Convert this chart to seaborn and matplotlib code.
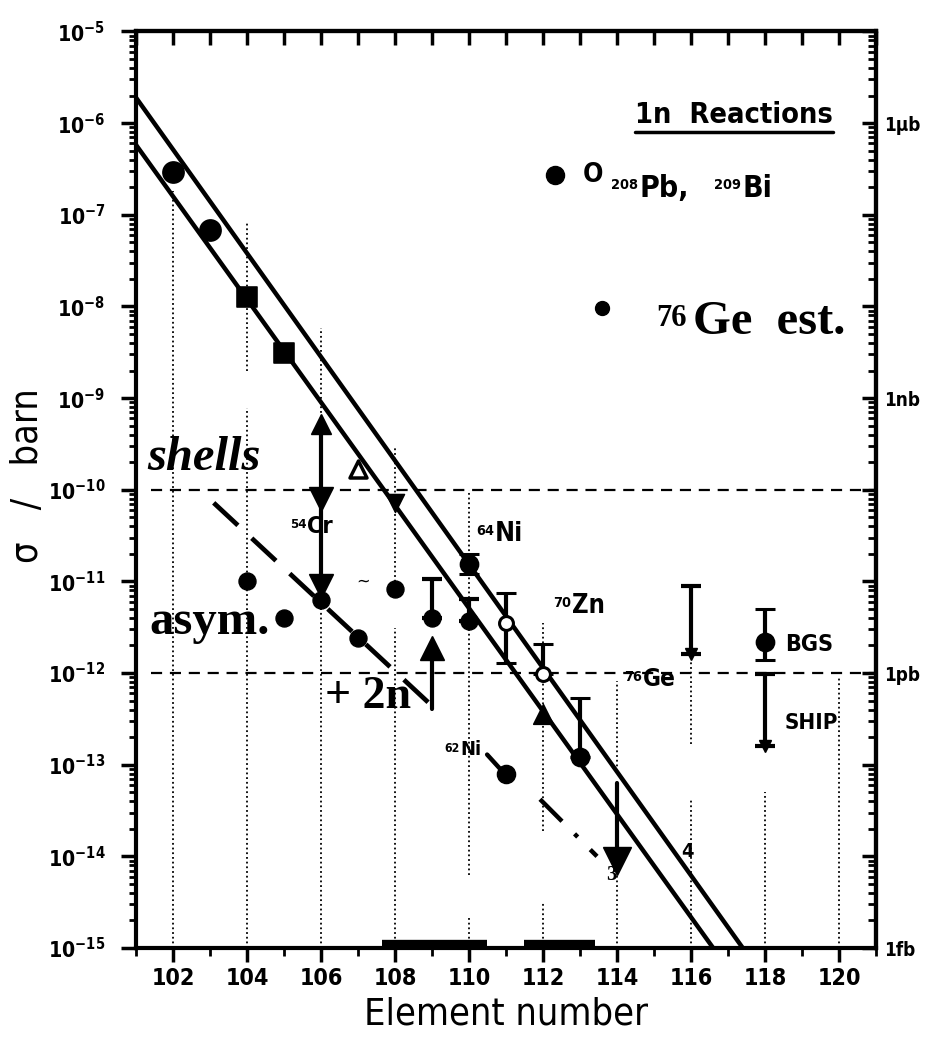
import numpy as np
import pandas as pd
import seaborn as sns
import matplotlib
matplotlib.use("Agg")
import matplotlib.pyplot as plt
from matplotlib import font_manager as fm
from matplotlib.font_manager import FontProperties
from matplotlib.ticker import FixedLocator, FixedFormatter, LogLocator, NullFormatter

# --- data ---------------------------------------------------------------
# 1n systematics, two parallel fit lines
upper_z = [101, 117.4]
upper_sig = [1.9e-6, 1e-15]
lower_z = [101, 116.6]
lower_sig = [5.8e-7, 1e-15]

# Pb/Bi targets, light elements
pb_z = [102, 103]
pb_sig = [2.9e-7, 6.8e-8]
sq_z = [104, 105]
sq_sig = [1.26e-8, 3.1e-9]

# single marks
tri_open_z, tri_open_sig = [107], [1.7e-10]
star_z, star_sig = [108], [7.2e-11]

# measured points with error bars
meas_z = [110, 111, 112, 113, 118]
meas_sig = [1.55e-11, 3.5e-12, 9.8e-13, 1.2e-13, 2.2e-12]
meas_lo = [1.2e-11, 1.3e-12, 9.8e-13, 1.2e-13, 1.4e-12]
meas_hi = [2.0e-11, 7.4e-12, 2.1e-12, 5.4e-13, 5.0e-12]
meas_filled = [True, False, False, True, True]

# asymmetric (shells) reactions
asym_z = [104, 105, 106, 107, 108, 109, 110]
asym_sig = [1.0e-11, 4.0e-12, 6.2e-12, 2.4e-12, 8.3e-12, 4.0e-12, 3.7e-12]
asym_hi = [None, None, None, None, None, 1.07e-11, 6.5e-12]
asym_trend_z = [103.1, 109.05]
asym_trend_sig = [7.2e-11, 4.2e-13]

# arrows
cr54_z, cr54_top, cr54_mid, cr54_low = 106, 5.2e-10, 8.0e-11, 8.9e-12
ni62_z, ni62_from, ni62_to = 109, 4.1e-13, 1.86e-12
z114, z114_from, z114_to = 114, 6.3e-14, 8.9e-15
lim116_z, lim116_top, lim116_end = 116, 8.9e-12, 1.6e-12
ship_z, ship_top, ship_end = 118, 9.8e-13, 1.6e-13
tri112_z, tri112_sig = [112], [3.6e-13]

# +2n branch
ni62_stick_z = [110.49, 110.97]
ni62_stick_sig = [1.29e-13, 7.9e-14]
ni62_pt_z, ni62_pt_sig = [111], [7.9e-14]
dashdot_z = [111.92, 113.46]
dashdot_sig = [4.2e-14, 1.0e-14]

# bars along the bottom
bar_z = [(107.65, 110.49), (111.5, 113.4)]
bar_sig = 1.12e-15

# dotted guide segments (z, low, high)
guide_z = [102, 104, 104, 106, 108, 108, 110, 110, 112, 112, 114, 114,
           116, 116, 118, 120]
guide_lo = [1e-15, 2.0e-9, 1e-15, 1e-15, 7.9e-12, 1e-15, 6.3e-15, 1e-15,
            1.9e-14, 1e-15, 8.5e-14, 1e-15, 1.7e-13, 1e-15, 1e-15, 1e-15]
guide_hi = [1.8e-7, 8.1e-8, 7.8e-10, 5.8e-9, 2.9e-10, 3.1e-12, 1e-10, 2.2e-15,
            3.5e-12, 3.2e-15, 8.1e-13, 7.9e-15, 1.35e-12, 4.1e-14, 5.0e-14, 8.9e-13]

ref_levels = [1e-10, 1e-12]
decades = [10.0 ** -k for k in range(5, 16)]
right_labels = {1e-6: "1\u03bcb", 1e-9: "1nb", 1e-12: "1pb", 1e-15: "1fb"}

# --- style ----------------------------------------------------------------
K = "black"
sns.set_style("ticks", rc={"axes.edgecolor": K, "text.color": K, "axes.labelcolor": K,
                           "xtick.color": K, "ytick.color": K})

# the scan uses a tall condensed face: take a condensed sans if one is installed
STRETCH_NUM = {"ultra-condensed": 100, "extra-condensed": 200, "condensed": 300,
               "semi-condensed": 400, "normal": 500}
NARROW, STRETCH = "Liberation Sans", 500
best = 999
for f in fm.fontManager.ttflist:
    s = f.stretch if isinstance(f.stretch, int) else STRETCH_NUM.get(f.stretch, 500)
    if "Narrow" in f.name or "Condensed" in f.name:
        s = min(s, 300)
    if s < 500 and abs(s - 300) < best and "Mono" not in f.name:
        best, NARROW, STRETCH = abs(s - 300), f.name, s
SERIF = "Liberation Serif"
plt.rcParams["font.family"] = [NARROW, "DejaVu Sans"]
plt.rcParams["font.stretch"] = STRETCH
plt.rcParams["mathtext.fontset"] = "custom"
plt.rcParams["mathtext.rm"] = NARROW
plt.rcParams["mathtext.bf"] = NARROW + ":bold"
plt.rcParams["axes.linewidth"] = 3

fig = plt.figure(figsize=(9.34, 10.57), dpi=100)
ax = fig.add_axes([0.1456, 0.1031, 0.7923, 0.8671])

# scale the sans sizes so "Element number" spans the width it has in the scan
rend = fig.canvas.get_renderer()
w10, _, _ = rend.get_text_width_height_descent(
    "Element number", FontProperties(family=[NARROW], size=10, stretch=STRETCH), ismath=False)
SF = (284.0 / w10) * 10 / 34.0


def fs(size):
    return size * SF


ax.set_yscale("log")
ax.set_xlim(101, 121)
ax.set_ylim(1e-15, 1e-5)

# guides and reference levels
ax.vlines(guide_z, guide_lo, guide_hi, colors=K, linestyles=(0, (1, 1.6)), lw=1.3, zorder=1)
for lv in ref_levels:
    ax.axhline(lv, xmin=0.02, color=K, ls=(0, (5, 3.5)), lw=1.6, zorder=1)

# systematics lines
sns.lineplot(x=upper_z, y=upper_sig, ax=ax, color=K, lw=3.2, zorder=3)
sns.lineplot(x=lower_z, y=lower_sig, ax=ax, color=K, lw=3.2, zorder=3)

# Pb/Bi points
sns.scatterplot(x=pb_z, y=pb_sig, ax=ax, color=K, marker="o", s=230, ec=K, zorder=5)
sns.scatterplot(x=sq_z, y=sq_sig, ax=ax, color=K, marker="s", s=210, ec=K, zorder=5)
sns.scatterplot(x=tri_open_z, y=tri_open_sig, ax=ax, marker="^", s=150,
                facecolor="white", ec=K, lw=2.5, zorder=5)
sns.scatterplot(x=star_z, y=star_sig, ax=ax, color=K, marker="v", s=170, ec=K, zorder=5)

for z, v, lo, hi, f in zip(meas_z, meas_sig, meas_lo, meas_hi, meas_filled):
    ax.errorbar([z], [v], yerr=[[v - lo], [hi - v]], fmt="o", ms=12 if f else 10,
                mfc=K if f else "white", mec=K, mew=2.2, ecolor=K, elinewidth=3,
                capsize=7, capthick=3, zorder=6)
sns.scatterplot(x=tri112_z, y=tri112_sig, ax=ax, color=K, marker="^", s=200, ec=K, zorder=6)

# asymmetric reactions
sns.lineplot(x=asym_trend_z, y=asym_trend_sig, ax=ax, color=K, lw=3.4,
             ls=(0, (7, 4)), zorder=3)
sns.scatterplot(x=asym_z, y=asym_sig, ax=ax, color=K, marker="o", s=150, ec=K, zorder=5)
for z, v, hi in zip(asym_z, asym_sig, asym_hi):
    if hi:
        ax.errorbar([z], [v], yerr=[[0], [hi - v]], fmt="none", ecolor=K,
                    elinewidth=3, capsize=7, capthick=3, zorder=5)

# arrows
ax.plot([cr54_z, cr54_z], [cr54_top, cr54_low], color=K, lw=3, zorder=4)
ax.plot([cr54_z], [cr54_top], marker="^", ms=15, color=K, zorder=5)
ax.plot([cr54_z, cr54_z], [cr54_mid, cr54_low], ls="none", marker="v", ms=17, color=K, zorder=5)
ax.plot([ni62_z, ni62_z], [ni62_from, ni62_to], color=K, lw=3, zorder=4)
ax.plot([ni62_z], [ni62_to], marker="^", ms=17, color=K, zorder=5)
ax.plot([z114, z114], [z114_from, z114_to], color=K, lw=3, zorder=4)
ax.plot([z114], [z114_to], marker="v", ms=20, color=K, zorder=5)
for z, top_v, end in [(lim116_z, lim116_top, lim116_end), (ship_z, ship_top, ship_end)]:
    ax.errorbar([z], [top_v], yerr=[[top_v - end], [0]], fmt="none", ecolor=K,
                elinewidth=3, capsize=7, capthick=3, zorder=5)
    ax.plot([z], [end], marker="v", ms=8, color=K, zorder=5)

# +2n branch
sns.lineplot(x=ni62_stick_z, y=ni62_stick_sig, ax=ax, color=K, lw=3.2, zorder=4)
sns.scatterplot(x=ni62_pt_z, y=ni62_pt_sig, ax=ax, color=K, marker="o", s=170, ec=K, zorder=5)
sns.lineplot(x=dashdot_z, y=dashdot_sig, ax=ax, color=K, lw=3.2,
             ls=(0, (7, 4, 1, 4)), zorder=3)
for a, b in bar_z:
    ax.plot([a, b], [bar_sig, bar_sig], color=K, lw=6, solid_capstyle="butt", zorder=4)


# --- texts ----------------------------------------------------------------
def iso(x, y, mass, sym, size, msize):
    t = ax.text(x, y, sym, fontsize=fs(size), weight="bold", ha="left", va="baseline")
    ax.annotate(mass, xy=(-0.03, 0.88), xycoords=t, fontsize=fs(msize), weight="bold",
                ha="right", va="top")


iso(110.7, 10 ** -10.56, "64", "Ni", 24, 13)
iso(112.78, 10 ** -11.34, "70", "Zn", 23, 13)
iso(114.7, 10 ** -12.14, "76", "Ge", 22, 13)
iso(109.76, 10 ** -12.89, "62", "Ni", 18, 11)
iso(105.62, 10 ** -10.47, "54", "Cr", 21, 12)

serif = dict(family=[SERIF, "DejaVu Serif"], weight="bold", stretch="normal")
ax.text(101.3, 10 ** -9.78, "shells", fontsize=35, style="italic", va="baseline", **serif)
ax.text(101.35, 10 ** -11.57, "asym.", fontsize=35, va="baseline", **serif)
ax.text(106.1, 10 ** -12.38, "+ 2n", fontsize=33, va="baseline", **serif)
ax.text(107.15, 10 ** -11.0, "~", fontsize=13, ha="center", va="center")
ax.text(115.9, 10 ** -13.95, "4", fontsize=fs(18), weight="bold", ha="center", va="center")
ax.text(113.86, 10 ** -14.2, "3", fontsize=15, ha="center", va="center", **serif)

ax.text(118.54, 10 ** -11.76, "BGS", fontsize=fs(21), weight="bold", va="baseline")
ax.text(118.54, 10 ** -12.61, "SHIP", fontsize=fs(20), weight="bold", va="baseline")

# legend block
ax.text(114.49, 1e-6, "1n  Reactions", fontsize=fs(26), weight="bold", va="baseline")
ax.plot([114.49, 119.85], [10 ** -6.1, 10 ** -6.1], color=K, lw=2.5)
ax.plot([112.32], [10 ** -6.57], marker="o", ms=13, color=K)
ax.text(113.35, 10 ** -6.57, "O", fontsize=fs(24), weight="bold", ha="center", va="center")
iso(114.62, 10 ** -6.81, "208", "Pb,", 27, 13)
iso(117.38, 10 ** -6.81, "209", "Bi", 27, 13)
ax.plot([113.6], [10 ** -8.02], marker="o", ms=10, color=K)
g = ax.text(116.05, 10 ** -8.3, "Ge  est.", fontsize=35, va="baseline", **serif)
ax.annotate("76", xy=(-0.04, 0.9), xycoords=g, fontsize=22, ha="right", va="top", **serif)

# --- axes -----------------------------------------------------------------
ax.set_xticks(range(102, 121, 2))
ax.set_xticks(range(101, 122), minor=True)
ax.tick_params(axis="x", which="major", direction="out", length=10, width=2.5,
               labelsize=fs(21), pad=4)
ax.tick_params(axis="x", which="minor", direction="out", length=6, width=2)
for lab in ax.get_xticklabels():
    lab.set_fontweight("bold")

ax.yaxis.set_major_locator(FixedLocator(decades))
ax.yaxis.set_major_formatter(FixedFormatter(
    [r"$\mathbf{10^{-%d}}$" % k for k in range(5, 16)]))
ax.yaxis.set_minor_locator(LogLocator(base=10, subs=range(2, 10), numticks=100))
ax.yaxis.set_minor_formatter(NullFormatter())
ax.tick_params(axis="y", which="major", direction="out", length=11, width=2.5,
               labelsize=fs(19), pad=11)
ax.tick_params(axis="y", which="minor", direction="out", length=5, width=2)

ax.set_xlabel("Element number", fontsize=fs(34), labelpad=4)
ax.set_ylabel("\u03c3   /   barn", fontsize=fs(34), labelpad=0)
ax.yaxis.set_label_coords(-0.122, 0.515)

top = ax.secondary_xaxis("top")
top.set_xticks(range(101, 122))
top.tick_params(direction="in", length=10, width=2.5, labeltop=False)

right = ax.secondary_yaxis("right", functions=(lambda v: v, lambda v: v))
right.yaxis.set_major_locator(FixedLocator(decades))
right.yaxis.set_major_formatter(FixedFormatter([right_labels.get(d, "") for d in decades]))
right.yaxis.set_minor_locator(LogLocator(base=10, subs=range(2, 10), numticks=100))
right.yaxis.set_minor_formatter(NullFormatter())
right.tick_params(which="major", direction="in", length=10, width=2.5, labelsize=fs(17), pad=6)
right.tick_params(which="minor", direction="in", length=6, width=2)
for lab in right.get_yticklabels():
    lab.set_fontweight("bold")

fig.savefig("out.png", dpi=100)
